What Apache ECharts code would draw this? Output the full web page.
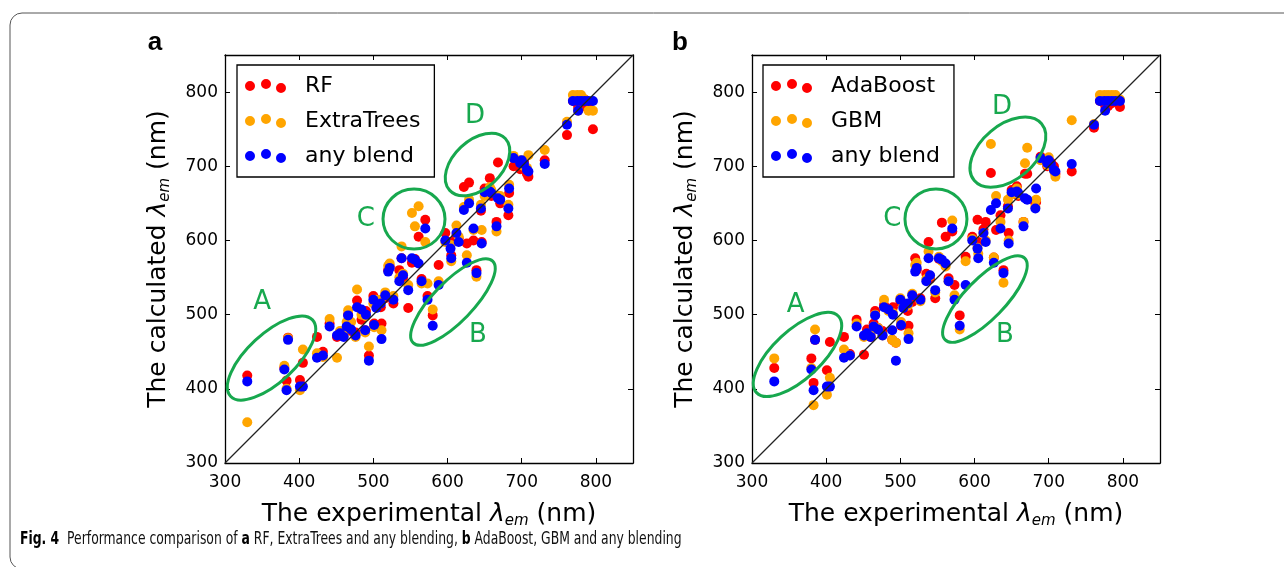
<!DOCTYPE html>
<html>
<head>
<meta charset="utf-8">
<script src="https://cdn.jsdelivr.net/npm/echarts@6/dist/echarts.min.js"></script>
<style>
html,body{margin:0;padding:0;background:#fff;}
#chart{width:1284px;height:567px;}
</style>
</head>
<body>
<div id="chart"></div>
<script>
// ---- data (nm) ----
const experimental = [330,385,380,383,401,405,424,441,451,455,464,466,476,478,484,489,494,501,504,511,516,520,522,527,538,540,547,552,556,561,570,573,565,580,588,604,605,615,626,629,622,645,635,639,646,657,659,666,668,671,683,682,689,698,703,709,700,707,731,761,776,769,775,780,785,790,796,500,510,490,460,470,535,597,612,650,432];
const predRF       = [418,469,428,411,412,435,470,488,470,476,480,500,476,519,493,479,445,488,515,488,522,560,565,515,576,550,509,570,575,605,628,525,548,499,567,598,580,603,596,678,672,640,600,560,598,684,660,625,705,650,664,634,700,696,706,686,702,690,708,742,780,788,788,780,790,785,750,525,510,505,476,478,560,610,606,670,450];
const predET       = [355,468,431,400,398,453,448,494,442,478,490,506,470,534,500,476,457,483,520,479,530,566,569,525,592,555,540,637,619,646,598,542,542,507,545,594,572,605,580,655,645,648,614,551,614,672,668,612,660,660,675,648,714,708,700,715,706,698,722,760,775,796,796,796,790,775,775,515,520,498,472,490,550,598,620,660,443];
const predBlend    = [410,466,426,398,403,403,442,484,472,475,484,499,472,510,507,479,438,486,509,467,526,558,563,520,576,553,533,576,574,569,616,520,545,485,540,589,576,598,570,650,641,643,616,556,596,666,664,619,657,655,670,643,711,704,703,693,708,695,703,756,775,788,788,788,788,788,788,520,515,500,470,480,545,600,610,665,445];
const predAda      = [428,466,441,408,425,463,470,493,446,480,488,505,478,513,507,466,462,485,515,485,517,576,560,522,598,548,522,575,624,605,612,540,549,499,578,628,598,625,577,614,691,646,634,560,610,673,660,625,690,690,652,650,713,700,705,690,705,700,693,752,782,788,788,781,785,788,780,517,505,510,470,482,555,605,615,668,447];
const predGBM      = [441,480,428,378,392,415,453,488,470,474,484,500,472,520,505,466,462,490,512,475,528,567,570,518,585,552,530,578,572,565,627,526,545,480,572,590,582,600,577,660,730,655,625,543,600,670,662,625,704,725,655,645,708,702,700,686,712,694,762,757,790,796,796,796,796,796,790,522,512,502,475,482,548,602,610,662,445];
const diagonal     = [[300,300],[850,850]];
const axisTicks    = ['300','400','500','600','700','800'];

// annotations: [label, ellipse centre (data), rx, ry, rotation(rad), label position (data)]
const annotA = [
  ['A',[362.7,441.5],56,24,0.75,[350,517]],
  ['B',[607.3,517],57,20,0.80,[641,472]],
  ['C',[554.8,628.9],31,30,0,[490,629]],
  ['D',[640.4,702.4],38,24,0.75,[637,768]]
];
const annotB = [
  ['A',[361.3,446.3],56,24,0.75,[359,513]],
  ['B',[614,521],57,20,0.80,[641,472]],
  ['C',[548,629],31,30,0,[489,629]],
  ['D',[645,719],44,27,0.70,[637,780]]
];

const RED='#ff0000', ORANGE='#ffa500', BLUE='#0000ff', GREEN='#17a84e';
const zip = ys => experimental.map((x,i)=>[x, ys[i]]);

const chart = echarts.init(document.getElementById('chart'), null, {renderer:'canvas'});

const tickFont = {fontFamily:'DejaVu Sans', fontSize:17, color:'#000'};
const nameRich = {
  t:{fontFamily:'DejaVu Sans', fontSize:25, color:'#000', lineHeight:30},
  l:{fontFamily:'DejaVu Sans', fontSize:25, fontStyle:'italic', color:'#000', lineHeight:30},
  s:{fontFamily:'DejaVu Sans', fontSize:15, fontStyle:'italic', color:'#000', lineHeight:17, verticalAlign:'bottom'}
};
function xAx(gi, pos, withName){
  return {
    gridIndex:gi, type:'value', position:pos, min:300, max:850, interval:100,
    axisLine:{show:true, onZero:false, lineStyle:{color:'#000', width:1.3}},
    axisTick:{show:true, inside:true, length:5, lineStyle:{color:'#000'}},
    axisLabel:{show:pos==='bottom', margin:11, showMaxLabel:false, formatter:v=>axisTicks.includes(String(v))?String(v):'', ...tickFont},
    splitLine:{show:false},
    name: withName ? '{t|The experimental }{l|λ}{s|em}{t| (nm)}' : '',
    nameLocation:'middle', nameGap:36, nameTextStyle:{rich:nameRich}
  };
}
function yAx(gi, pos, withName){
  return {
    gridIndex:gi, type:'value', position:pos, min:300, max:850, interval:100,
    axisLine:{show:true, onZero:false, lineStyle:{color:'#000', width:1.3}},
    axisTick:{show:true, inside:true, length:5, lineStyle:{color:'#000'}},
    axisLabel:{show:pos==='left', margin:7, showMaxLabel:false, formatter:v=>axisTicks.includes(String(v))?String(v):'', ...tickFont},
    splitLine:{show:false},
    name: withName ? '{t|The calculated }{l|λ}{s|em}{t| (nm)}' : '',
    nameLocation:'middle', nameGap:52, nameRotate:90, nameTextStyle:{rich:nameRich}
  };
}
function scat(name, data, color, xi, yi){
  return {name, type:'scatter', xAxisIndex:xi, yAxisIndex:yi, data, symbol:'circle', symbolSize:10,
    itemStyle:{color, opacity:1}, emphasis:{disabled:true}, z:2};
}
function diag(xi, yi){
  return {type:'line', xAxisIndex:xi, yAxisIndex:yi, data:diagonal, symbol:'none', silent:true,
    lineStyle:{color:'#222', width:1.3}, z:5};
}
const ICON = 'path://M0,7A5,5,0,1,0,10,7A5,5,0,1,0,0,7Z M16,5A5,5,0,1,0,26,5A5,5,0,1,0,16,5Z M31,9A5,5,0,1,0,41,9A5,5,0,1,0,31,9Z';
function leg(left, names){
  return {
    left, top:65, orient:'vertical', data:names, icon:ICON, itemWidth:41, itemHeight:14,
    itemGap:13, padding:[10,14,10,8], borderColor:'#000', borderWidth:1.3, backgroundColor:'#fff',
    selectedMode:false,
    textStyle:{fontFamily:'DejaVu Sans', fontSize:22, color:'#000', lineHeight:20, padding:[0,0,0,14]}
  };
}

const option = {
  animation:false,
  backgroundColor:'#fff',
  grid:[
    {left:225, top:55, width:408, height:408},
    {left:752, top:55, width:408, height:408}
  ],
  xAxis:[xAx(0,'bottom',true), xAx(1,'bottom',true), xAx(0,'top',false), xAx(1,'top',false)],
  yAxis:[yAx(0,'left',true), yAx(1,'left',true), yAx(0,'right',false), yAx(1,'right',false)],
  legend:[leg(237,['RF','ExtraTrees','any blend']), leg(763,['AdaBoost','GBM','any blend'])],
  series:[
    scat('RF', zip(predRF), RED, 0, 0),
    scat('ExtraTrees', zip(predET), ORANGE, 0, 0),
    scat('any blend', zip(predBlend), BLUE, 0, 0),
    diag(0,0),
    scat('AdaBoost', zip(predAda), RED, 1, 1),
    scat('GBM', zip(predGBM), ORANGE, 1, 1),
    scat('any blend', zip(predBlend), BLUE, 1, 1),
    diag(1,1)
  ]
};
chart.setOption(option);

function annotGraphics(list, gi){
  const out = [];
  list.forEach(([lab, c, rx, ry, rot, lp])=>{
    const p = chart.convertToPixel({gridIndex:gi}, c);
    const q = chart.convertToPixel({gridIndex:gi}, lp);
    out.push({type:'ellipse', x:p[0], y:p[1], rotation:rot, shape:{cx:0, cy:0, rx, ry},
      style:{fill:null, stroke:GREEN, lineWidth:3}, z:10, silent:true});
    out.push({type:'text', x:q[0], y:q[1], style:{text:lab, fill:GREEN, font:'26px "DejaVu Sans"', textAlign:'center', textVerticalAlign:'middle'}, z:10, silent:true});
  });
  return out;
}
const g = [
  {type:'rect', shape:{x:10, y:13, width:1300, height:556, r:12}, style:{fill:null, stroke:'#555', lineWidth:1}, z:0, silent:true},
  {type:'text', x:155, y:43, style:{text:'a', font:'bold 26px "Liberation Sans"', fill:'#000', textAlign:'center', textVerticalAlign:'middle'}},
  {type:'text', x:680, y:43, style:{text:'b', font:'bold 26px "Liberation Sans"', fill:'#000', textAlign:'center', textVerticalAlign:'middle'}},
  {type:'text', x:20, y:540, scaleX:0.81, style:{
    text:'{b|Fig. 4}{n|  Performance comparison of }{b|a}{n| RF, ExtraTrees and any blending, }{b|b}{n| AdaBoost, GBM and any blending}',
    textVerticalAlign:'middle',
    rich:{
      b:{fontFamily:'"Liberation Sans Narrow","DejaVu Sans Condensed"', fontWeight:'bold', fontSize:17, fill:'#000'},
      n:{fontFamily:'"Liberation Sans Narrow","DejaVu Sans Condensed"', fontSize:17, fill:'#111'}
    }}}
].concat(annotGraphics(annotA,0), annotGraphics(annotB,1));
chart.setOption({graphic:g});
</script>
</body>
</html>
